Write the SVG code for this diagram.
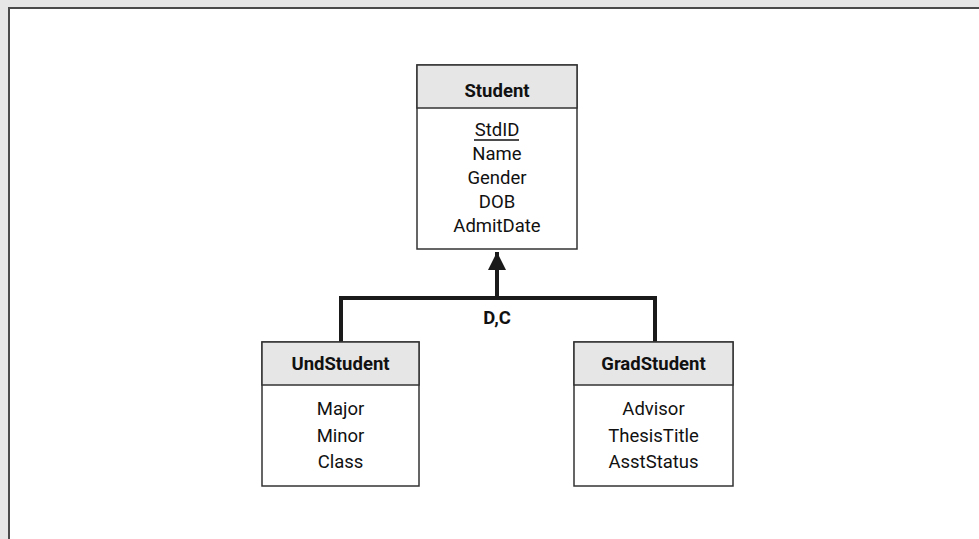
<svg xmlns="http://www.w3.org/2000/svg" width="979" height="539" viewBox="0 0 979 539">
  <style>
    .hdr { fill: #e6e6e7; stroke: #333; stroke-width: 1.5; }
    .body { fill: #fff; stroke: #333; stroke-width: 1.5; }
    .title { font-family: Roboto, "Liberation Sans", sans-serif; font-weight: bold; font-size: 18.5px; fill: #111; text-anchor: middle; }
    .attr { font-family: Roboto, "Liberation Sans", sans-serif; font-size: 18.5px; fill: #111; text-anchor: middle; }
    .conn { fill: none; stroke: #1a1a1a; stroke-width: 4; }
  </style>
  <defs>
    <marker id="tri" markerUnits="userSpaceOnUse" markerWidth="22" markerHeight="18" refX="20" refY="10" orient="auto" viewBox="0 0 20 20">
      <path d="M0,0 L20,10 L0,20 Z" fill="#1a1a1a"/>
    </marker>
  </defs>

  <!-- page frame -->
  <rect x="0" y="0" width="979" height="539" fill="#e6e6e6"/>
  <rect x="9" y="8" width="970" height="531" fill="#fff"/>
  <path d="M9,539 V8 H979" fill="none" stroke="#4a4a4a" stroke-width="2"/>

  <!-- connectors -->
  <g id="connectors">
    <path class="conn" d="M341,342 V298 H655 V342"/>
    <path class="conn" d="M497,298 V252" marker-end="url(#tri)"/>
    <text class="title" x="497" y="324">D,C</text>
  </g>

  <g id="student">
    <rect class="body" x="417" y="65" width="160" height="184"/>
    <rect class="hdr" x="417" y="65" width="160" height="43"/>
    <text class="title" x="497" y="97">Student</text>
    <text class="attr" x="497" y="136">StdID</text>
    <line x1="474" y1="140" x2="519" y2="140" stroke="#111" stroke-width="1.3"/>
    <text class="attr" x="497" y="160">Name</text>
    <text class="attr" x="497" y="184">Gender</text>
    <text class="attr" x="497" y="208">DOB</text>
    <text class="attr" x="497" y="232">AdmitDate</text>
  </g>

  <g id="undstudent">
    <rect class="body" x="262" y="342" width="157" height="144"/>
    <rect class="hdr" x="262" y="342" width="157" height="43"/>
    <text class="title" x="340.5" y="370">UndStudent</text>
    <text class="attr" x="340.5" y="415">Major</text>
    <text class="attr" x="340.5" y="441.5">Minor</text>
    <text class="attr" x="340.5" y="468">Class</text>
  </g>

  <g id="gradstudent">
    <rect class="body" x="574" y="342" width="159" height="144"/>
    <rect class="hdr" x="574" y="342" width="159" height="43"/>
    <text class="title" x="653.5" y="370">GradStudent</text>
    <text class="attr" x="653.5" y="415">Advisor</text>
    <text class="attr" x="653.5" y="441.5">ThesisTitle</text>
    <text class="attr" x="653.5" y="468">AsstStatus</text>
  </g>
</svg>
